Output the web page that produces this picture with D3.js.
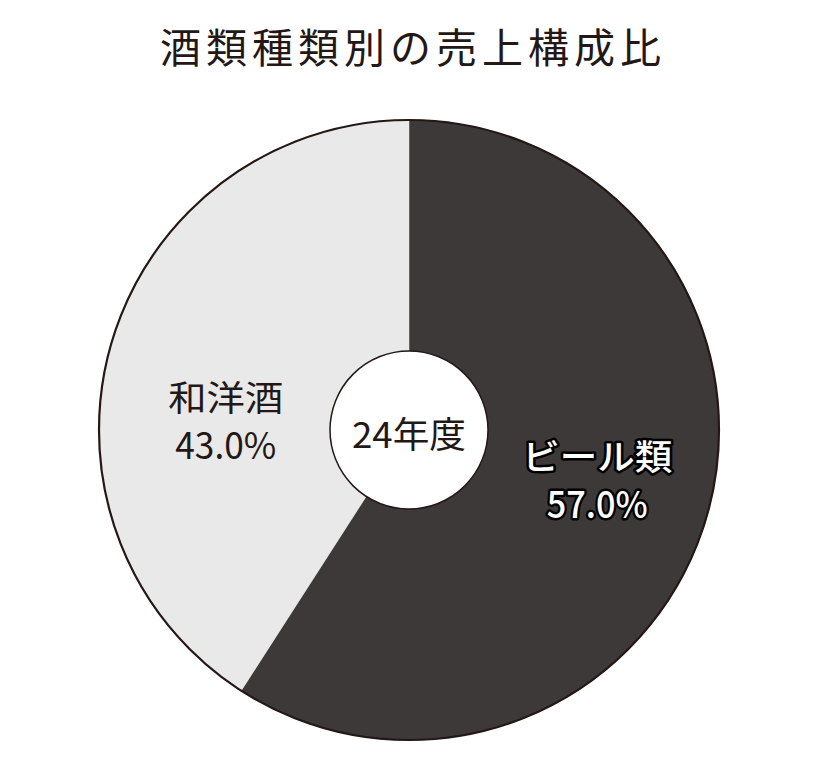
<!DOCTYPE html>
<html><head><meta charset="utf-8">
<script src="https://cdn.jsdelivr.net/npm/d3@7"></script>
<style>
html,body{margin:0;padding:0;background:#fff;}
svg{display:block;font-family:"Noto Sans CJK JP","Noto Sans",sans-serif;}
</style></head>
<body>
<svg id="chart" width="820" height="771"></svg>
<script>
// Data
const title = "酒類種類別の売上構成比";
const centerLabel = "24年度";
const categories = ["ビール類", "和洋酒"];
const sliceShares = [59.1, 40.9];        // angles as drawn in the picture
const shareLabels = ["57.0%", "43.0%"];  // printed percentages
const sliceColors = ["#3e3939", "#e9e9e9"];

const svg = d3.select("#chart");
const cx = 409, cy = 430, R = 310, r0 = 79;
const ink = "#231815";

svg.append("text")
  .attr("x", 413).attr("y", 63)
  .attr("text-anchor", "middle")
  .attr("font-size", 41).attr("letter-spacing", 5).attr("font-weight", 400)
  .attr("fill", ink)
  .text(title);

const g = svg.append("g").attr("transform", `translate(${cx},${cy})`);
const pie = d3.pie().sort(null).value(d => d.v);
const data = categories.map((c, i) => ({c, v: sliceShares[i], lab: shareLabels[i], col: sliceColors[i]}));
const arcs = pie(data);
const arc = d3.arc().innerRadius(0).outerRadius(R);

g.selectAll("path.slice").data(arcs).join("path")
  .attr("class", "slice")
  .attr("d", arc)
  .attr("fill", d => d.data.col)
  .attr("stroke", d => d.data.col).attr("stroke-width", 0.5);

g.append("circle").attr("r", R).attr("fill", "none").attr("stroke", ink).attr("stroke-width", 2.2);
g.append("circle").attr("r", r0).attr("fill", "#fff").attr("stroke", ink).attr("stroke-width", 1.5);

g.append("text").attr("x", 0).attr("y", 18)
  .attr("text-anchor", "middle").attr("font-size", 36).attr("font-weight", 400).attr("fill", ink)
  .attr("textLength", 114).attr("lengthAdjust", "spacingAndGlyphs")
  .text(centerLabel);

// label placement: centroid of a label ring with small per-slice adjustments
const labelArc = d3.arc().innerRadius(192).outerRadius(192);
const adjust = [[4, -12], [1, 37]];
arcs.forEach((d, i) => {
  const [x, y] = labelArc.centroid(d);
  const px = x + adjust[i][0], py = y + adjust[i][1];
  const dark = i === 0;
  const t = g.append("text").attr("text-anchor", "middle")
    .attr("font-weight", dark ? 500 : 400)
    .attr("fill", dark ? "#fff" : ink)
    .attr("stroke", dark ? "#000" : "none")
    .attr("stroke-width", dark ? 5 : 0)
    .attr("paint-order", "stroke")
    .attr("stroke-linejoin", "round");
  t.append("tspan").attr("x", px).attr("y", py - 2)
    .attr("font-size", 35).attr("textLength", dark ? 150 : 115).attr("lengthAdjust", "spacingAndGlyphs")
    .text(d.data.c);
  t.append("tspan").attr("x", px).attr("y", py + 46)
    .attr("font-size", 37).attr("textLength", 101).attr("lengthAdjust", "spacingAndGlyphs")
    .text(d.data.lab);
});
</script>
</body></html>
